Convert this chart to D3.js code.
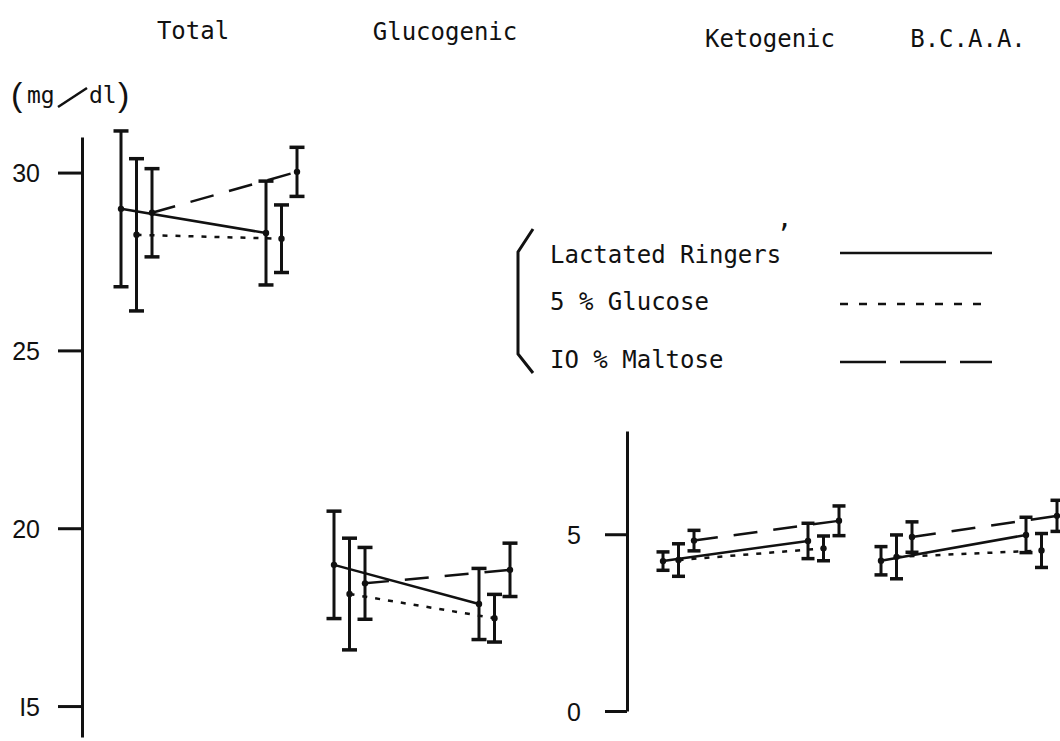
<!DOCTYPE html>
<html>
<head>
<meta charset="utf-8">
<title>Plasma amino acids (mg/dl)</title>
<script src="https://cdn.jsdelivr.net/npm/d3@7"></script>
<style>
  body { margin: 0; background: #fff; }
  svg text { font-family: "DejaVu Sans Mono", monospace; fill: #111; }
</style>
</head>
<body>
<div id="chart"></div>
<script>
// groups of amino acids, panels left to right
var groups = ["Total", "Glucogenic", "Ketogenic", "B.C.A.A."];
var phases = ["pre", "post"];
var treatments = ["Lactated Ringer's", "5 % Glucose", "IO % Maltose"];

// mean / SD, order: Total pre, Total post, Gluco pre, Gluco post, Keto pre, Keto post, BCAA pre, BCAA post
var ringerMean  = [28.98, 28.30, 18.97, 17.87, 4.24, 4.81, 4.25, 4.98];
var ringerSd    = [2.19, 1.46, 1.51, 1.00, 0.26, 0.50, 0.40, 0.50];
var glucoseMean = [28.25, 28.14, 18.15, 17.47, 4.27, 4.60, 4.36, 4.54];
var glucoseSd   = [2.14, 0.95, 1.57, 0.67, 0.46, 0.35, 0.62, 0.48];
var maltoseMean = [28.87, 30.02, 18.45, 18.83, 4.82, 5.38, 4.92, 5.52];
var maltoseSd   = [1.24, 0.69, 1.01, 0.75, 0.29, 0.42, 0.43, 0.44];

var leftTicks = [15, 20, 25, 30];
var leftTickLabels = ["I5", "20", "25", "30"];
var rightTicks = [0, 5];

var width = 1060, height = 741;
var ink = "#111";

var svg = d3.select("#chart").append("svg")
  .attr("width", width)
  .attr("height", height)
  .style("background", "#fff");

// two value axes with the same px per unit
var yLeft = d3.scaleLinear().domain([14.13, 31.0]).range([737, 137]);
var yRight = d3.scaleLinear().domain([0, 7.92]).range([711, 431]);

var groupX = d3.scaleOrdinal().domain(groups).range([121, 334, 663, 881]);
var phaseX = d3.scalePoint().domain(phases).range([0, 145]);
var treatX = d3.scalePoint().domain(treatments).range([0, 31]);

function yFor(g) {
  return (g == "Total" || g == "Glucogenic") ? yLeft : yRight;
}

var means = [ringerMean, glucoseMean, maltoseMean];
var sds = [ringerSd, glucoseSd, maltoseSd];
var rows = [];
treatments.forEach(function (t, k) {
  groups.forEach(function (g, i) {
    phases.forEach(function (p, j) {
      rows.push({ t: t, g: g, p: p, mean: means[k][i * 2 + j], sd: sds[k][i * 2 + j] });
    });
  });
});

function xOf(d) { return groupX(d.g) + phaseX(d.p) + treatX(d.t); }

// Axes
var leftAxis = svg.append("g")
  .attr("transform", "translate(82,0)")
  .call(d3.axisLeft(yLeft).tickValues(leftTicks).tickSize(24).tickSizeOuter(0)
    .tickPadding(18).tickFormat(function (d) { return leftTickLabels[leftTicks.indexOf(d)]; }));

var rightAxis = svg.append("g")
  .attr("transform", "translate(627,0)")
  .call(d3.axisLeft(yRight).tickValues(rightTicks).tickSize(22).tickSizeOuter(0)
    .tickPadding(24).tickFormat(d3.format("d")));

[leftAxis, rightAxis].forEach(function (ax) {
  ax.select(".domain").attr("stroke", ink).attr("stroke-width", 3);
  ax.selectAll(".tick line").attr("stroke", ink).attr("stroke-width", 3);
  ax.selectAll(".tick text")
    .style("font-family", "'Liberation Sans', Arial, sans-serif")
    .attr("font-size", 25)
    .attr("dy", "0.36em")
    .attr("fill", ink);
});

// Titles
var titleX = [193, 445, 770, 968];
var titleY = [39, 40, 47, 47];
svg.selectAll("text.title").data(groups).enter().append("text")
  .attr("class", "title")
  .attr("x", function (d, i) { return titleX[i]; })
  .attr("y", function (d, i) { return titleY[i]; })
  .attr("text-anchor", "middle")
  .attr("font-size", 24)
  .text(function (d) { return d; });

// unit label (mg/dl)
var unit = svg.append("g");
unit.append("text").attr("x", 11).attr("y", 106).attr("font-size", 34)
  .style("font-family", "'Liberation Sans', Arial, sans-serif").text("(");
unit.append("text").attr("x", 27).attr("y", 103).attr("font-size", 23).text("mg");
unit.append("line").attr("x1", 58).attr("y1", 107).attr("x2", 87).attr("y2", 88)
  .attr("stroke", ink).attr("stroke-width", 2.5);
unit.append("text").attr("x", 89).attr("y", 103).attr("font-size", 23).text("dl");
unit.append("text").attr("x", 118).attr("y", 106).attr("font-size", 34)
  .style("font-family", "'Liberation Sans', Arial, sans-serif").text(")");

// line styles
var dashChart = ["none", "5,8", "24,16"];
var widthChart = [2.5, 2.5, 2.5];

// Connecting lines pre -> post
var line = d3.line().x(function (d) { return d[0]; }).y(function (d) { return d[1]; });
treatments.forEach(function (t, k) {
  groups.forEach(function (g) {
    var pts = rows.filter(function (r) { return r.t == t && r.g == g; })
      .map(function (r) { return [xOf(r), yFor(g)(r.mean)]; });
    svg.append("path")
      .attr("d", line(pts))
      .attr("fill", "none")
      .attr("stroke", ink)
      .attr("stroke-width", widthChart[k])
      .attr("stroke-dasharray", dashChart[k]);
  });
});

// Error bars
var bars = svg.selectAll("g.bar").data(rows).enter().append("g").attr("class", "bar");
function capHalf(d) { return yFor(d.g) === yLeft ? 7.5 : 6.5; }
bars.append("line")
  .attr("x1", xOf).attr("x2", xOf)
  .attr("y1", function (d) { return yFor(d.g)(d.mean + d.sd); })
  .attr("y2", function (d) { return yFor(d.g)(d.mean - d.sd); })
  .attr("stroke", ink).attr("stroke-width", 3);
bars.append("line")
  .attr("x1", function (d) { return xOf(d) - capHalf(d); })
  .attr("x2", function (d) { return xOf(d) + capHalf(d); })
  .attr("y1", function (d) { return yFor(d.g)(d.mean + d.sd); })
  .attr("y2", function (d) { return yFor(d.g)(d.mean + d.sd); })
  .attr("stroke", ink).attr("stroke-width", 3.5);
bars.append("line")
  .attr("x1", function (d) { return xOf(d) - capHalf(d); })
  .attr("x2", function (d) { return xOf(d) + capHalf(d); })
  .attr("y1", function (d) { return yFor(d.g)(d.mean - d.sd); })
  .attr("y2", function (d) { return yFor(d.g)(d.mean - d.sd); })
  .attr("stroke", ink).attr("stroke-width", 3.5);
bars.append("circle")
  .attr("cx", xOf)
  .attr("cy", function (d) { return yFor(d.g)(d.mean); })
  .attr("r", 3.2)
  .attr("fill", ink);

// Legend
var legendY = [263, 310, 368];
var legendLineY = [253, 304, 362];
var dashLegend = ["none", "8,11", "46,14"];
var legend = svg.append("g");
legend.append("path")
  .attr("d", "M533,229 L518,252 L518,354 L533,373")
  .attr("fill", "none").attr("stroke", ink).attr("stroke-width", 3);

treatments.forEach(function (t, k) {
  if (k == 0) {
    // apostrophe sits over the s in the original typescript
    legend.append("text").attr("x", 550).attr("y", legendY[k]).attr("font-size", 24)
      .text("Lactated Ringers");
    legend.append("text").attr("x", 776).attr("y", 243).attr("font-size", 26)
      .text("\u2019");
  } else {
    legend.append("text").attr("x", 550).attr("y", legendY[k]).attr("font-size", 24).text(t);
  }
  legend.append("line")
    .attr("x1", 840).attr("x2", 992)
    .attr("y1", legendLineY[k]).attr("y2", legendLineY[k])
    .attr("stroke", ink).attr("stroke-width", 2.5)
    .attr("stroke-dasharray", dashLegend[k]);
});
</script>
</body>
</html>
